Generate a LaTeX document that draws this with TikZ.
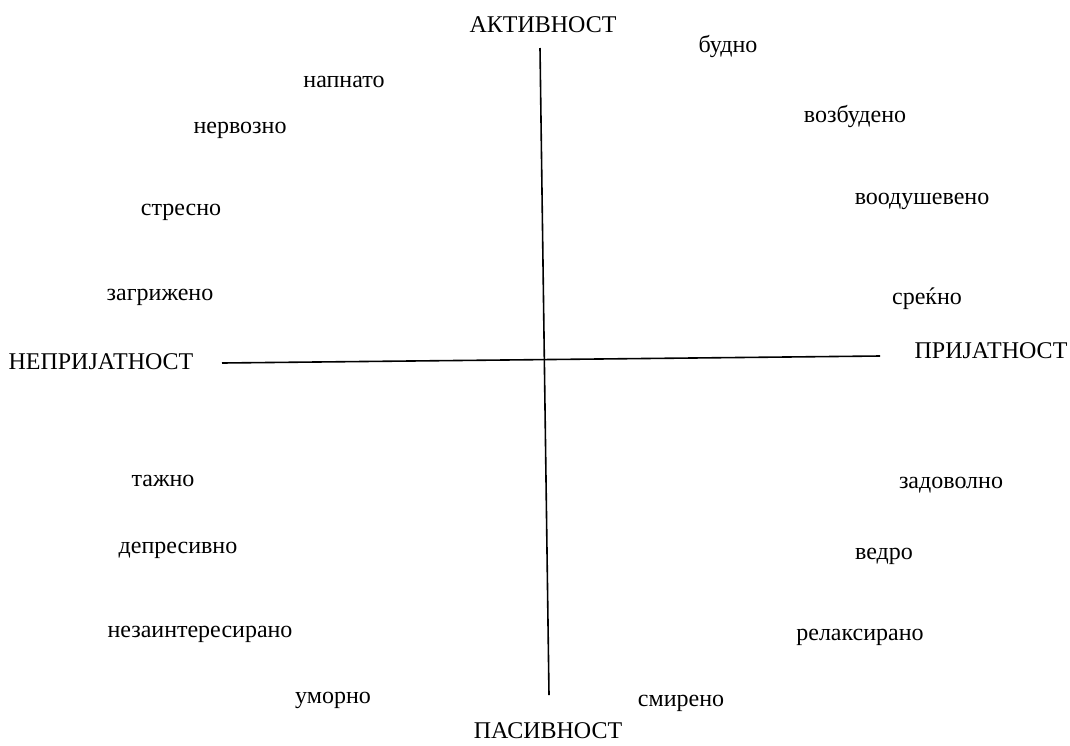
\documentclass[tikz,border=0pt]{standalone}
\usepackage{fontspec}
\setmainfont{Liberation Serif}
\usepackage{tikz}
\usetikzlibrary{positioning,calc}

\begin{document}
\begin{tikzpicture}[
  x=1pt,y=-1pt,
  axis/.style={line width=1.6pt},
  pole/.style={font=\fontsize{24}{28}\selectfont,inner sep=0pt},
  mood/.style={font=\fontsize{24}{28}\selectfont,inner sep=0pt}
]
  \useasboundingbox (0,0) rectangle (1070,745);

  % axes
  \coordinate (top) at (540,48);
  \coordinate (bottom) at (549,695);
  \coordinate (left) at (222,363);
  \coordinate (right) at (880,356);
  \draw[axis] (top) -- (bottom);
  \draw[axis] (left) -- (right);

  % poles
  \node[pole] (active) at (543,25) {АКТИВНОСТ};
  \node[pole] (passive) at (548,731) {ПАСИВНОСТ};
  \node[pole] (unpleasant) at (101,362) {НЕПРИЈАТНОСТ};
  \node[pole] (pleasant) at (991,351) {ПРИЈАТНОСТ};

  % active / unpleasant
  \node[mood] (tense) at (344,82) {напнато};
  \node[mood] (nervous) at (240,130) {нервозно};
  \node[mood] (stressed) at (181,212) {стресно};
  \node[mood] (worried) at (160,297) {загрижено};
  % passive / unpleasant
  \node[mood] (sad) at (163,481) {тажно};
  \node[mood] (depressed) at (178,550) {депресивно};
  \node[mood] (bored) at (200,634) {незаинтересирано};
  \node[mood] (tired) at (333,700) {уморно};
  % active / pleasant
  \node[mood] (alert) at (728,46) {будно};
  \node[mood] (excited) at (855,116) {возбудено};
  \node[mood] (elated) at (922,201) {воодушевено};
  \node[mood] (happy) at (927,299) {среќно};
  % passive / pleasant
  \node[mood] (content) at (951,485) {задоволно};
  \node[mood] (serene) at (884,556) {ведро};
  \node[mood] (relaxed) at (860,637) {релаксирано};
  \node[mood] (calm) at (681,703) {смирено};
\end{tikzpicture}
\end{document}
